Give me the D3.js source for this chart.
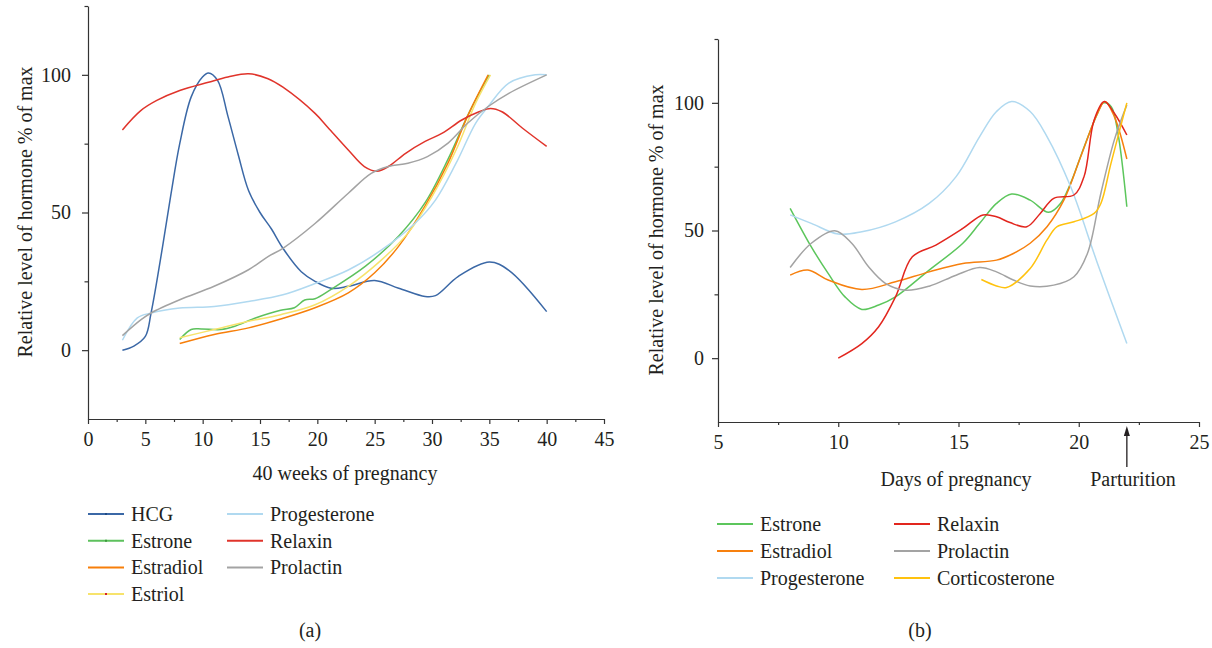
<!DOCTYPE html>
<html>
<head>
<meta charset="utf-8">
<script src="https://cdn.jsdelivr.net/npm/d3@7"></script>
<style>
  body { margin: 0; background: #fff; }
  svg text { font-family: "Liberation Serif", "Times New Roman", serif; fill: #231f20; }
  .axis path, .axis line { stroke: #333; stroke-width: 1.2; }
  .axis text { font-size: 20px; font-family: "Liberation Serif", serif; fill: #231f20; }
</style>
</head>
<body>
<svg id="chart" width="1212" height="648"></svg>
<script>
// ---- panel (a): weeks of pregnancy, % of max ----
const hcgA = [[3,0],[4,1.5],[5,5],[5.5,13.5],[6.5,37.5],[7.25,57],[8,75],[9,92],[10,99.3],[10.5,100.7],[11.3,98],[12.2,85],[13.1,71],[14,58],[15,50],[16,44],[17,37],[18.6,28.5],[19.8,25],[21.2,22.5],[22.7,23.2],[25,25.3],[27.1,22.5],[29.4,19.5],[30.3,19.8],[32.3,26.8],[35,32],[36.7,29],[40,14]];
const estroneA = [[8,3.9],[9,7.5],[9.9,7.7],[11.6,7.5],[12.8,8.7],[14.6,11.7],[16.8,14.5],[18,15.4],[18.9,18.2],[19.8,18.7],[21.2,22.1],[24.2,30.5],[27.1,41.5],[29.4,53.6],[31.4,69.4],[33.1,85.1],[34.3,94.8],[35,100]];
const estradiolA = [[8,2.4],[11,5.7],[14,8.1],[16.8,11.3],[19.8,15.4],[22.7,20.8],[25,28.1],[27.1,37.8],[29.4,52.4],[31.4,68],[33.1,85],[34.9,100]];
const estriolA = [[8,4.5],[11,7.5],[14,10.5],[16.8,12.9],[19.8,16.5],[22.7,23.2],[25.6,32.8],[27.9,42.5],[30,55.8],[32.1,72.7],[33.8,89.7],[35.1,100]];
const progesteroneA = [[3,3.6],[4.3,11.7],[5.5,13.5],[8,15.3],[11,15.9],[14,17.7],[17,20.1],[19.8,24.2],[22.7,29.1],[25.6,36.4],[28.5,46],[30.3,54.5],[32.1,67.9],[33.8,82.4],[34.9,88.5],[36.7,97],[39,100],[40,100]];
const relaxinA = [[3,80],[4.6,87],[6,90.7],[8,94.3],[10.5,97.3],[12.2,99.2],[14,100.4],[15.7,98.6],[17,95.5],[19.8,86],[20.9,81],[22.7,72.7],[24.1,66.7],[25.2,65],[26.2,66.7],[27.7,71.5],[29.4,75.8],[30.9,78.8],[32.6,83.6],[34.1,86.6],[35.1,87.8],[36.1,86.6],[37.9,80.6],[40,74]];
const prolactinA = [[3,5.3],[4.6,11],[5.5,13.5],[8,18.3],[11,23.2],[14,29.2],[15.7,34],[17,37],[19.8,46],[22.7,57],[24.7,64.2],[26.2,66.7],[27.9,67.9],[29.6,70.3],[31.4,75.2],[33.1,82.4],[34.9,88.5],[36.7,93.3],[40,100]];

// ---- panel (b): days of pregnancy, % of max ----
const estroneB = [[8,58.7],[8.88,43.6],[9.58,33.2],[10.28,24],[10.98,19.1],[11.68,20.8],[12.38,24],[13.78,34.5],[15.18,45],[15.88,52.8],[16.58,60.6],[17.21,64.3],[17.98,61.9],[18.75,57.1],[19.24,60.6],[19.66,68.5],[20.23,82.9],[20.78,95.9],[21.03,100],[21.35,98.5],[21.63,88],[22,59.3]];
const estradiolB = [[8,32.5],[8.74,34.5],[9.58,30.6],[10.98,26.9],[12.38,29.9],[13.78,33.8],[15.18,37.1],[16.58,38.4],[17.28,41],[17.98,45],[18.68,51.5],[19.38,61.9],[20.08,78.9],[20.78,95.9],[21.09,100.5],[21.48,94.6],[22,78]];
const progesteroneB = [[8,56.1],[8.88,52.8],[10,48.6],[10.98,49.5],[12.38,53.4],[13.78,60.6],[14.9,71.1],[15.88,86.8],[16.58,96.6],[17.21,100.5],[17.98,96.6],[18.68,86.8],[19.66,67.2],[20.78,37.1],[22,5.7]];
const relaxinB = [[10,0],[10.98,5.7],[11.68,12.3],[12.38,24],[13.08,39.7],[14.06,44.3],[15.18,50.8],[16.02,56.1],[16.58,55.4],[17.14,53.1],[17.84,51.5],[18.4,56.7],[18.96,62.6],[19.8,63.9],[20.22,71.1],[20.64,93.3],[21.06,100.5],[21.48,95.9],[22,87.4]];
const prolactinB = [[8,35.5],[8.88,45],[9.86,49.9],[10.56,45],[11.26,35.8],[11.96,29.3],[12.8,26.6],[13.78,28.2],[14.9,32.5],[15.88,35.5],[16.58,33.8],[17.28,30.6],[17.98,28.3],[18.96,28.6],[19.8,31.9],[20.36,41],[20.92,64.6],[21.48,85.5],[22,99.2]];
const corticosteroneB = [[15.95,30.8],[16.58,28.3],[17,27.7],[17.98,35.1],[18.68,46.3],[19.1,51.5],[19.8,53.4],[20.64,56.7],[20.92,60.6],[21.34,76.3],[22,100]];

// tick values
const yMajor = [0, 50, 100];
const yMinor = [25, 75, 125];
const xMajorA = d3.range(0, 46, 5);
const xMinorA = d3.range(2.5, 45, 5);
const xMajorB = [5, 10, 15, 20, 25];
const xMinorB = [7.5, 12.5, 17.5, 22.5];

const svg = d3.select("#chart");

const panelA = {
  xDomain: [0, 45], xRange: [88, 604], yRange: [419, 6],
  xMajor: xMajorA, xMinor: xMinorA, yPad: 11,
  series: [
    {name: "HCG", color: "#3b68a6", mark: "#1f4a85", values: hcgA},
    {name: "Estrone", color: "#5dc15d", mark: "#3e9a3e", values: estroneA},
    {name: "Estradiol", color: "#f77f0a", values: estradiolA},
    {name: "Estriol", color: "#f7e36c", mark: "#d4202a", values: estriolA},
    {name: "Progesterone", color: "#b0d9f0", values: progesteroneA},
    {name: "Relaxin", color: "#e0342b", values: relaxinA},
    {name: "Prolactin", color: "#a3a3a3", values: prolactinA}
  ],
  legend: {x: [88, 227], y0: 514, dy: 26.7, rows: 4}
};

const panelB = {
  xDomain: [5, 25], xRange: [718, 1199], yRange: [422, 39],
  xMajor: xMajorB, xMinor: xMinorB, yPad: 8,
  series: [
    {name: "Estrone", color: "#5cc65c", values: estroneB},
    {name: "Estradiol", color: "#f7800e", values: estradiolB},
    {name: "Progesterone", color: "#b0d9f0", values: progesteroneB},
    {name: "Relaxin", color: "#e2261e", values: relaxinB},
    {name: "Prolactin", color: "#a3a3a3", values: prolactinB},
    {name: "Corticosterone", color: "#ffc20e", values: corticosteroneB}
  ],
  legend: {x: [717, 894], y0: 524, dy: 27, rows: 3}
};

function drawPanel(p) {
  const x = d3.scaleLinear().domain(p.xDomain).range(p.xRange);
  const y = d3.scaleLinear().domain([-25, 125]).range(p.yRange);
  const g = svg.append("g");

  // minor ticks
  g.append("g")
      .attr("class", "axis")
      .attr("transform", `translate(0,${p.yRange[0]})`)
    .call(d3.axisBottom(x).tickValues(p.xMinor).tickSize(3).tickFormat(""))
    .call(a => a.select(".domain").remove());
  g.append("g")
      .attr("class", "axis")
      .attr("transform", `translate(${p.xRange[0]},0)`)
    .call(d3.axisLeft(y).tickValues(yMinor).tickSize(3.5).tickFormat(""))
    .call(a => a.select(".domain").remove());

  // major axes
  g.append("g")
      .attr("class", "axis")
      .attr("transform", `translate(0,${p.yRange[0]})`)
    .call(d3.axisBottom(x).tickValues(p.xMajor).tickSize(5).tickSizeOuter(0).tickPadding(8));
  g.append("g")
      .attr("class", "axis")
      .attr("transform", `translate(${p.xRange[0]},0)`)
    .call(d3.axisLeft(y).tickValues(yMajor).tickSize(6).tickSizeOuter(0).tickPadding(p.yPad));

  // lines
  const line = d3.line()
      .x(d => x(d[0]))
      .y(d => y(d[1]))
      .curve(d3.curveCatmullRom.alpha(0.5));
  g.selectAll("path.series")
    .data(p.series)
    .join("path")
      .attr("class", "series")
      .attr("fill", "none")
      .attr("stroke", d => d.color)
      .attr("stroke-width", 1.5)
      .attr("d", d => line(d.values));

  // legend
  const L = p.legend;
  const item = g.selectAll("g.leg")
    .data(p.series)
    .join("g")
      .attr("class", "leg")
      .attr("transform", (d, i) => `translate(${L.x[Math.floor(i / L.rows)]},${L.y0 + (i % L.rows) * L.dy})`);
  item.append("line")
      .attr("x1", 0).attr("x2", 36)
      .attr("stroke", d => d.color)
      .attr("stroke-width", 2);
  item.filter(d => d.mark).append("line")
      .attr("x1", 17).attr("x2", 19)
      .attr("stroke", d => d.mark)
      .attr("stroke-width", 2);
  item.append("text")
      .attr("x", 43)
      .attr("y", 7)
      .style("font-size", "20px")
    .text(d => d.name);

  return {x, y, g};
}

const a = drawPanel(panelA);
const b = drawPanel(panelB);

// axis titles
svg.append("text")
    .attr("x", 345).attr("y", 480)
    .attr("text-anchor", "middle")
    .style("font-size", "20px")
  .text("40 weeks of pregnancy");

svg.append("text")
    .attr("transform", "translate(32,212) rotate(-90)")
    .attr("text-anchor", "middle")
    .style("font-size", "20px")
  .text("Relative level of hormone % of max");

svg.append("text")
    .attr("transform", "translate(663,230) rotate(-90)")
    .attr("text-anchor", "middle")
    .style("font-size", "20px")
  .text("Relative level of hormone % of max");

svg.append("text")
    .attr("x", 956).attr("y", 486)
    .attr("text-anchor", "middle")
    .style("font-size", "20px")
  .text("Days of pregnancy");

// parturition arrow at day 22
const px = b.x(22);
svg.append("line")
    .attr("x1", px).attr("x2", px)
    .attr("y1", 467).attr("y2", 432)
    .attr("stroke", "#231f20")
    .attr("stroke-width", 1.3);
svg.append("path")
    .attr("d", `M${px},426 L${px - 3},436 L${px + 3},436 Z`)
    .attr("fill", "#231f20");
svg.append("text")
    .attr("x", 1133).attr("y", 486)
    .attr("text-anchor", "middle")
    .style("font-size", "20px")
  .text("Parturition");

// panel captions
svg.append("text")
    .attr("x", 310).attr("y", 637)
    .attr("text-anchor", "middle")
    .style("font-size", "20px")
  .text("(a)");
svg.append("text")
    .attr("x", 920).attr("y", 637)
    .attr("text-anchor", "middle")
    .style("font-size", "20px")
  .text("(b)");
</script>
</body>
</html>
